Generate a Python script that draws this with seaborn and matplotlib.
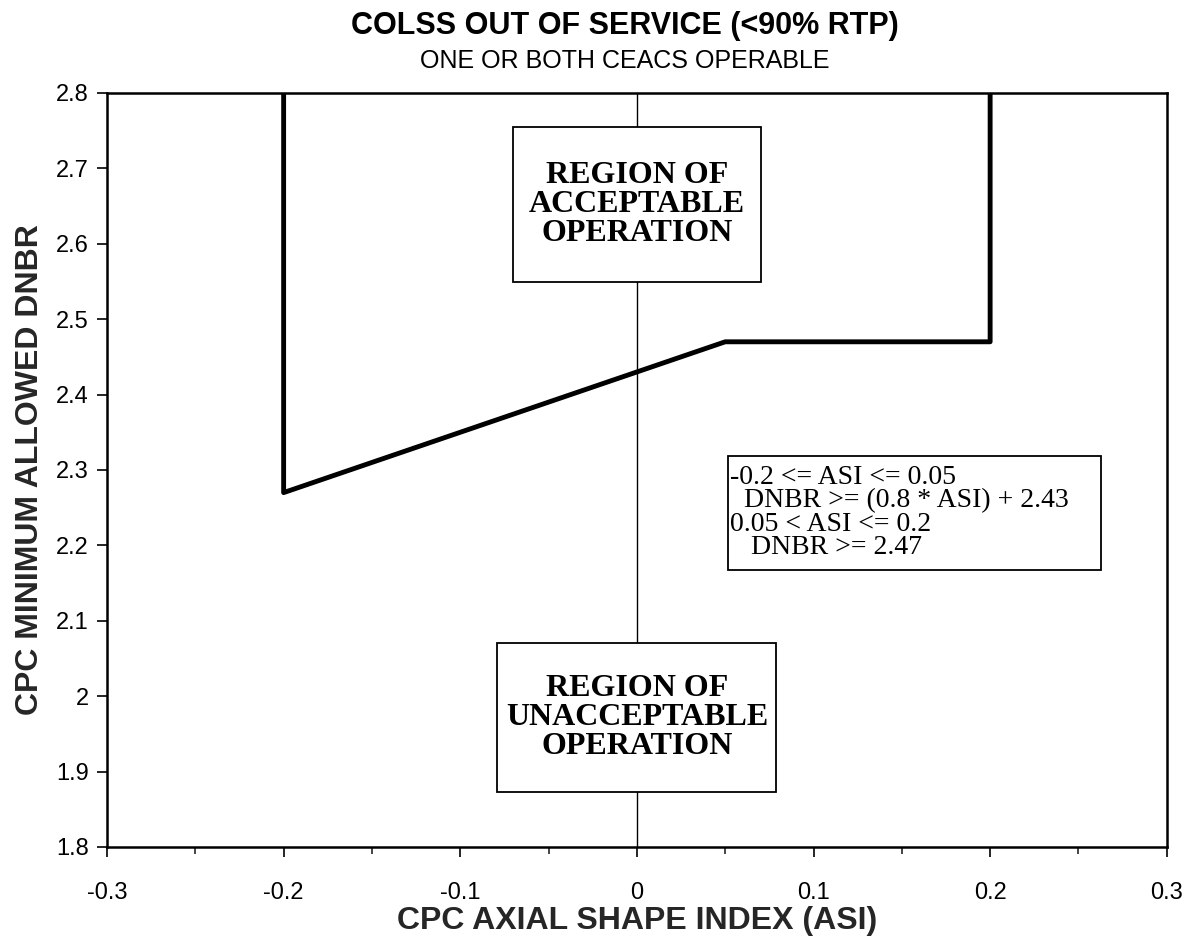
import numpy as np
import pandas as pd
import matplotlib
matplotlib.use("Agg")
import matplotlib.pyplot as plt
import seaborn as sns
from matplotlib.ticker import MultipleLocator
from matplotlib.patches import Rectangle

# Limit line (ASI vs minimum allowed DNBR)
asi = [-0.2, -0.2, 0.05, 0.2, 0.2]
dnbr = [2.8, 2.27, 2.47, 2.47, 2.8]

x_ticks = [-0.3, -0.2, -0.1, 0, 0.1, 0.2, 0.3]
x_tick_labels = ["-0.3", "-0.2", "-0.1", "0", "0.1", "0.2", "0.3"]
y_ticks = [1.8, 1.9, 2.0, 2.1, 2.2, 2.3, 2.4, 2.5, 2.6, 2.7, 2.8]
y_tick_labels = ["1.8", "1.9", "2", "2.1", "2.2", "2.3", "2.4", "2.5", "2.6", "2.7", "2.8"]

title = "COLSS OUT OF SERVICE (<90% RTP)"
subtitle = "ONE OR BOTH CEACS OPERABLE"
eq_text = ("-0.2 <= ASI <= 0.05\n"
           "  DNBR >= (0.8 * ASI) + 2.43\n"
           "0.05 < ASI <= 0.2\n"
           "   DNBR >= 2.47")

sns.set_style("white")
plt.rcParams['font.family'] = ['Liberation Sans', 'DejaVu Sans']
plt.rcParams['text.color'] = 'black'

fig = plt.figure(figsize=(11.93, 9.41), dpi=100)
ax = fig.add_axes([0.0897, 0.0999, 0.8883, 0.8013])

df = pd.DataFrame({"asi": asi, "dnbr": dnbr})
sns.lineplot(data=df, x="asi", y="dnbr", sort=False, estimator=None,
             color="black", lw=3.5, ax=ax)
ax.axvline(0, color="black", lw=1.0, zorder=1)

ax.set_xlim(-0.3, 0.3)
ax.set_ylim(1.8, 2.8)
ax.set_xticks(x_ticks)
ax.set_xticklabels(x_tick_labels)
ax.set_yticks(y_ticks)
ax.set_yticklabels(y_tick_labels)
ax.xaxis.set_minor_locator(MultipleLocator(0.05))
ax.tick_params(axis="both", which="major", direction="out", length=7, width=1.2,
               labelsize=17, color="black", labelcolor="black", bottom=True, left=True)
ax.tick_params(axis="x", which="minor", direction="out", length=5, width=1.2, bottom=True)
ax.tick_params(axis="x", pad=18)
ax.tick_params(axis="y", pad=6)
for s in ax.spines.values():
    s.set_color("black")
    s.set_linewidth(1.8)

ax.set_xlabel("CPC AXIAL SHAPE INDEX (ASI)", fontsize=23, fontweight="bold", labelpad=2)
ax.set_ylabel("CPC MINIMUM ALLOWED DNBR", fontsize=23, fontweight="bold", labelpad=8)

fig.text(0.5235, 0.972, title, ha="center", va="center", fontsize=22, fontweight="bold")
fig.text(0.5235, 0.935, subtitle, ha="center", va="center", fontsize=18)

# annotation boxes
ax.add_patch(Rectangle((-0.07, 2.549), 0.14, 0.206, fc="white", ec="black", lw=1.3, zorder=4))
ax.text(0.0, 2.652, "REGION OF\nACCEPTABLE\nOPERATION", ha="center", va="center",
        fontsize=23, fontweight="bold", family="Liberation Serif", linespacing=1.0, zorder=5)

ax.add_patch(Rectangle((-0.079, 1.873), 0.158, 0.198, fc="white", ec="black", lw=1.3, zorder=4))
ax.text(0.0, 1.972, "REGION OF\nUNACCEPTABLE\nOPERATION", ha="center", va="center",
        fontsize=23, fontweight="bold", family="Liberation Serif", linespacing=1.0, zorder=5)

ax.add_patch(Rectangle((0.0515, 2.167), 0.2115, 0.151, fc="white", ec="black", lw=1.3, zorder=4))
ax.text(0.0528, 2.2435, eq_text, ha="left", va="center", fontsize=20,
        family="Liberation Serif", linespacing=0.9, zorder=5)

fig.savefig("out.png", dpi=100)
